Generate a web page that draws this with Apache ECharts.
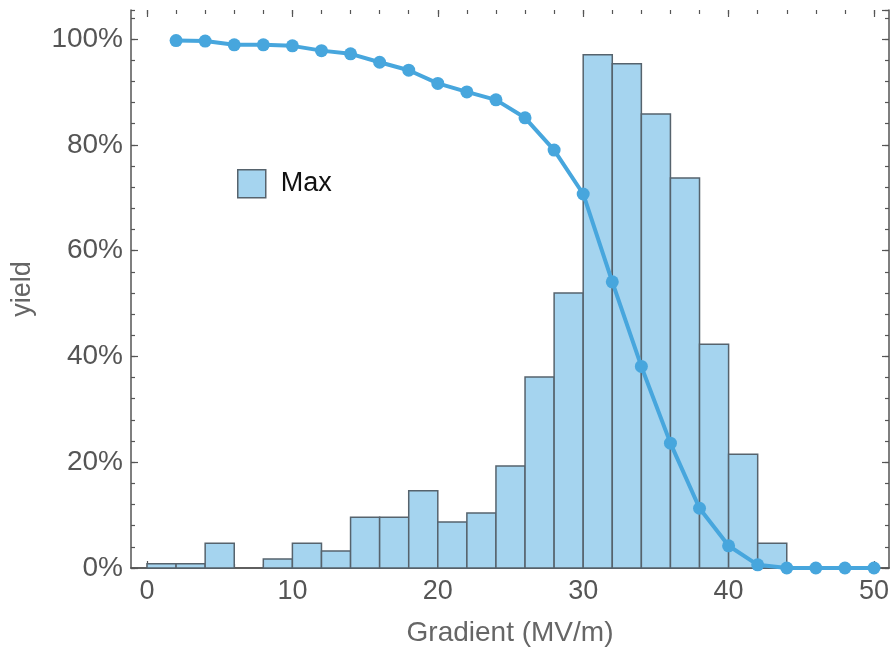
<!DOCTYPE html>
<html>
<head>
<meta charset="utf-8">
<title>yield vs gradient</title>
<script src="https://cdn.jsdelivr.net/npm/echarts@6/dist/echarts.min.js"></script>
<style>
html, body { margin: 0; padding: 0; background: #fff; }
#chartMain { width: 894px; height: 652px; }
</style>
</head>
<body>
<div id="chartMain"></div>
<script>
// histogram bins (MV/m) and share of cavities per bin
var binLeft  = [0, 2, 4, 6, 8, 10, 12, 14, 16, 18, 20, 22, 24, 26, 28, 30, 32, 34, 36, 38, 40, 42];
var binRight = [2, 4, 6, 8, 10, 12, 14, 16, 18, 20, 22, 24, 26, 28, 30, 32, 34, 36, 38, 40, 42, 44];
var maxShare = [0.008, 0.008, 0.047, 0, 0.017, 0.047, 0.032, 0.096, 0.096, 0.146, 0.087, 0.104,
                0.193, 0.361, 0.520, 0.970, 0.953, 0.858, 0.737, 0.423, 0.215, 0.047];
// yield curve
var yieldX = [2, 4, 6, 8, 10, 12, 14, 16, 18, 20, 22, 24, 26, 28, 30, 32, 34, 36, 38, 40, 42, 44, 46, 48, 50];
var yieldY = [0.997, 0.996, 0.989, 0.989, 0.987, 0.978, 0.972, 0.956, 0.941, 0.916, 0.900, 0.885,
              0.851, 0.790, 0.707, 0.541, 0.381, 0.236, 0.113, 0.042, 0.006, 0, 0, 0, 0];

var Y_MAX = 1.0548;
var FONT = '"Liberation Sans", Arial, Helvetica, sans-serif';
var AXIS_COLOR = '#555';
var BAR_FILL = '#a5d4ef';
var BAR_EDGE = '#56636d';
var LINE_COLOR = '#47a6dd';

var myChart = echarts.init(document.getElementById('chartMain'));

var barData = [];
for (var i = 0; i < binLeft.length; i++) {
    barData.push([binLeft[i], binRight[i], maxShare[i]]);
}
var lineData = [];
for (var j = 0; j < yieldX.length; j++) {
    lineData.push([yieldX[j], yieldY[j]]);
}

function renderBar(params, api) {
    if (api.value(2) <= 0) return null;
    var p0 = api.coord([api.value(0), api.value(2)]);
    var p1 = api.coord([api.value(1), 0]);
    return {
        type: 'rect',
        shape: { x: p0[0], y: p0[1], width: p1[0] - p0[0], height: p1[1] - p0[1] },
        style: { fill: BAR_FILL, stroke: BAR_EDGE, lineWidth: 1.5 }
    };
}

// tick-only axis helper (inside ticks, no labels, no line)
function tickAxis(extra, len, interval) {
    var a = {
        show: true,
        axisLine: { show: false },
        axisLabel: { show: false },
        splitLine: { show: false },
        axisTick: { show: true, inside: true, length: len, lineStyle: { color: AXIS_COLOR, width: 1.2 } },
        interval: interval
    };
    for (var k in extra) a[k] = extra[k];
    return a;
}

var option = {
    animation: false,
    backgroundColor: '#fff',
    grid: [
        { left: 147, right: 20, top: 10, bottom: 84 },   // data area (x = 0..50)
        { left: 131, right: 5, top: 10, bottom: 84 }     // frame
    ],
    legend: {
        left: 232,
        top: 164,
        itemWidth: 28,
        itemHeight: 28,
        textStyle: { fontFamily: FONT, fontSize: 27, color: '#111', padding: [0, 0, 0, 10] },
        data: [{ name: 'Max', icon: 'rect', itemStyle: { color: BAR_FILL, borderColor: BAR_EDGE, borderWidth: 1.5 } }]
    },
    xAxis: [
        tickAxis({ type: 'value', gridIndex: 0, position: 'bottom', min: 0, max: 50,
            axisLabel: { show: true, fontFamily: FONT, fontSize: 27, color: AXIS_COLOR, margin: 10 } }, 7, 10),
        tickAxis({ type: 'value', gridIndex: 0, position: 'bottom', min: 0, max: 50 }, 4, 2),
        tickAxis({ type: 'value', gridIndex: 0, position: 'top', min: 0, max: 50 }, 7, 10),
        tickAxis({ type: 'value', gridIndex: 0, position: 'top', min: 0, max: 50 }, 4, 2),
        {
            type: 'value', gridIndex: 1, position: 'bottom', min: 0, max: 1,
            axisLine: { show: true, lineStyle: { color: AXIS_COLOR, width: 1.5 } },
            axisTick: { show: false }, axisLabel: { show: false }, splitLine: { show: false },
            name: 'Gradient (MV/m)', nameLocation: 'middle', nameGap: 51,
            nameTextStyle: { fontFamily: FONT, fontSize: 28, color: '#666' }
        },
        {
            type: 'value', gridIndex: 1, position: 'top', min: 0, max: 1,
            axisLine: { show: true, lineStyle: { color: AXIS_COLOR, width: 1.5 } },
            axisTick: { show: false }, axisLabel: { show: false }, splitLine: { show: false }
        }
    ],
    yAxis: [
        { type: 'value', gridIndex: 0, min: 0, max: Y_MAX, show: false },
        {
            type: 'value', gridIndex: 1, position: 'left', min: 0, max: Y_MAX, interval: 0.2,
            axisLine: { show: true, lineStyle: { color: AXIS_COLOR, width: 1.5 } },
            axisTick: { show: true, inside: true, length: 7, lineStyle: { color: AXIS_COLOR, width: 1.2 } },
            axisLabel: {
                fontFamily: FONT, fontSize: 28, color: AXIS_COLOR, margin: 8, showMaxLabel: false,
                formatter: function (v) { return Math.round(v * 100) + '%'; }
            },
            splitLine: { show: false },
            name: 'yield', nameLocation: 'middle', nameGap: 95,
            nameTextStyle: { fontFamily: FONT, fontSize: 27, color: '#666' }
        },
        tickAxis({ type: 'value', gridIndex: 1, position: 'left', min: 0, max: Y_MAX }, 4, 0.04),
        {
            type: 'value', gridIndex: 1, position: 'right', min: 0, max: Y_MAX, interval: 0.2,
            axisLine: { show: true, lineStyle: { color: AXIS_COLOR, width: 1.5 } },
            axisTick: { show: true, inside: true, length: 7, lineStyle: { color: AXIS_COLOR, width: 1.2 } },
            axisLabel: { show: false }, splitLine: { show: false }
        },
        tickAxis({ type: 'value', gridIndex: 1, position: 'right', min: 0, max: Y_MAX }, 4, 0.04)
    ],
    series: [
        {
            name: 'Max',
            type: 'custom',
            xAxisIndex: 0,
            yAxisIndex: 0,
            renderItem: renderBar,
            itemStyle: { color: BAR_FILL, borderColor: BAR_EDGE },
            encode: { x: [0, 1], y: 2 },
            data: barData,
            z: 2
        },
        {
            name: 'yield',
            type: 'line',
            xAxisIndex: 0,
            yAxisIndex: 0,
            data: lineData,
            clip: false,
            symbol: 'circle',
            symbolSize: 13,
            lineStyle: { color: LINE_COLOR, width: 4 },
            itemStyle: { color: LINE_COLOR },
            z: 5
        }
    ]
};

myChart.setOption(option);
</script>
</body>
</html>
